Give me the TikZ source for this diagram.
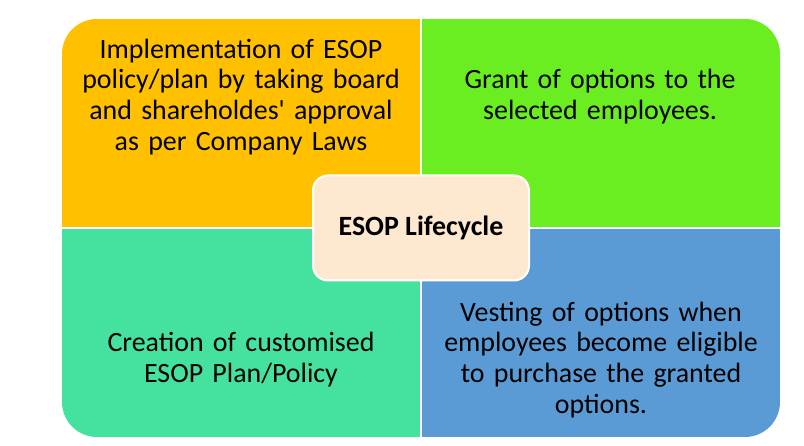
\documentclass[tikz,border=0pt]{standalone}
\usepackage{fontspec}
\setmainfont{Carlito}
\usetikzlibrary{positioning}
\definecolor{implcol}{HTML}{FFC000}
\definecolor{grantcol}{HTML}{6AEE22}
\definecolor{creatcol}{HTML}{44E29E}
\definecolor{vestcol}{HTML}{5B9BD5}
\definecolor{lifecol}{HTML}{FFE8D0}
\tikzset{
    quad/.style   = {align=center, text width=340bp, font=\fontsize{28}{31}\selectfont, text=black},
    life/.style   = {draw=white, line width=2bp, rounded corners=15bp, fill=lifecol, minimum width=216bp, minimum height=105bp, font=\fontsize{28}{31}\selectfont\bfseries},
    gap/.style    = {draw=white, line width=2bp},
}
\begin{document}
\begin{tikzpicture}[x=1bp, y=-1bp]
  \useasboundingbox (0,0) rectangle (804,446);
  % four quarters, clipped to the outer rounded box
  \coordinate (tl) at (62,19);
  \coordinate (br) at (780,437);
  \coordinate (mid) at (421,228);
  \begin{scope}
    \clip[rounded corners=35bp] (tl) rectangle (br);
    \fill[implcol]  (tl) rectangle (mid);
    \fill[grantcol] (tl -| mid) rectangle (br |- mid);
    \fill[creatcol] (tl |- mid) rectangle (br -| mid);
    \fill[vestcol]  (mid) rectangle (br);
  \end{scope}
  \draw[gap] (tl -| mid) -- (br -| mid);
  \draw[gap] (tl |- mid) -- (br |- mid);
  % texts
  \node[quad] (impl)  at (241,97)  {Implementation of ESOP\\policy/plan by taking board\\and shareholdes\textquotesingle{} approval\\as per Company Laws};
  \node[quad] (grant) at (600,97)  {Grant of options to the\\selected employees.};
  \node[quad] (creat) at (241,360) {Creation of customised\\ESOP Plan/Policy};
  \node[quad] (vest)  at (601,360) {Vesting of options when\\employees become eligible\\to purchase the granted\\options.};
  \node[life] (esop) at (mid) {ESOP Lifecycle};
\end{tikzpicture}
\end{document}
